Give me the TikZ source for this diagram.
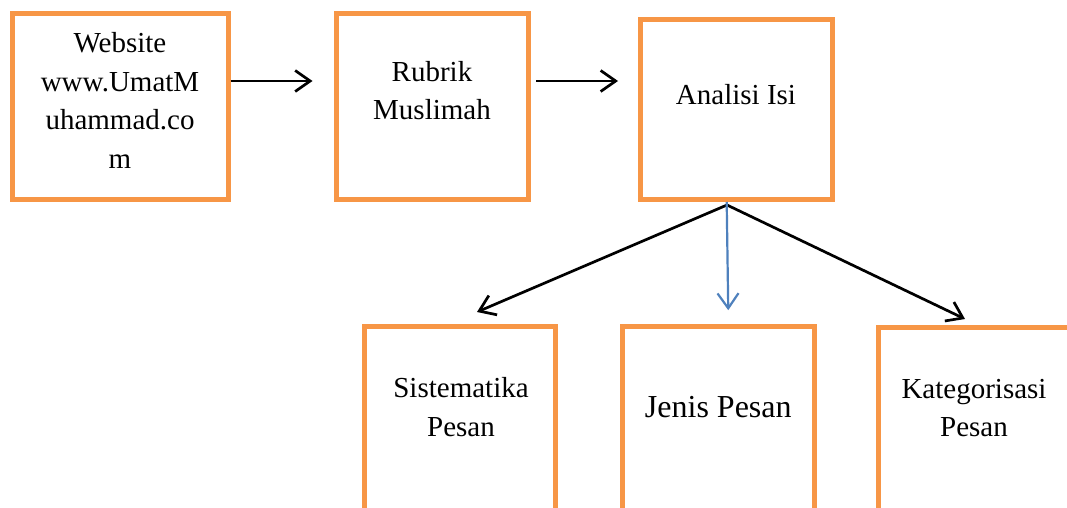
\documentclass[tikz,border=0pt]{standalone}
\usepackage{fontspec}
\setmainfont{Liberation Serif}
\usetikzlibrary{arrows.meta,positioning}
\definecolor{boxorange}{RGB}{247,150,70}
\definecolor{arrowblue}{RGB}{79,129,189}

\begin{document}
\begin{tikzpicture}[
    x=1pt, y=-1pt,
    frame/.style={rectangle, draw=boxorange, line width=5pt, minimum width=192pt, minimum height=185.5pt, inner sep=0pt},
    txt/.style={align=center, inner sep=0pt, anchor=base, font=\fontsize{29}{38.5}\selectfont},
    arr/.style={-{Straight Barb[length=15pt,width=21pt]}, line width=2.7pt}
]
    % Canvas
    \path[use as bounding box] (0,0) rectangle (1067,508);
    \clip (0,0) rectangle (1067,508);

    % Top row
    \node[frame, minimum width=216pt] (web) at (120,106.75) {};
    \node[frame] (rubrik) at (432,106.75) {};
    \node[frame, minimum height=179.5pt] (analisis) at (736,109.75) {};

    % Bottom row (runs off the page)
    \node[frame, minimum width=191pt, minimum height=220pt] (sistematika) at (460,436.5) {};
    \node[frame, minimum width=191.5pt, minimum height=220pt] (jenis) at (718.25,436.7) {};
    \node[frame, minimum height=220pt] (kategori) at (974.5,437.5) {};

    % Labels (anchored on the last line)
    \node[txt] (web-t) at (120,168) {Website\\www.UmatM\\uhammad.co\\m};
    \node[txt] (rubrik-t) at (432,120) {Rubrik\\Muslimah};
    \node[txt] (analisis-t) at (736,105) {Analisi Isi};
    \node[txt] (sistematika-t) at (461,436) {Sistematika\\Pesan};
    \node[txt, font=\fontsize{32}{38.5}\selectfont] (jenis-t) at (718.3,417.3) {Jenis Pesan};
    \node[txt] (kategori-t) at (974,436.7) {Kategorisasi\\Pesan};

    % Flow
    \draw[arr] ([yshift=25.75pt]web.east) -- ([xshift=-21pt,yshift=25.75pt]rubrik.west);
    \draw[arr] ([xshift=5.5pt,yshift=25.75pt]rubrik.east) -- ([xshift=-19.5pt,yshift=28.75pt]analisis.west);

    % Split
    \coordinate (fork) at ([xshift=-9pt,yshift=-3pt]analisis.south);
    \draw[arr] (fork) -- ([xshift=17pt,yshift=12pt]sistematika.north);
    \draw[arr] (fork) -- ([xshift=-9.5pt,yshift=6pt]kategori.north);
    \draw[arr, arrowblue, line width=2.2pt] ([xshift=-9.3pt]analisis.south) -- ([xshift=10pt,yshift=14pt]jenis.north);
\end{tikzpicture}
\end{document}
